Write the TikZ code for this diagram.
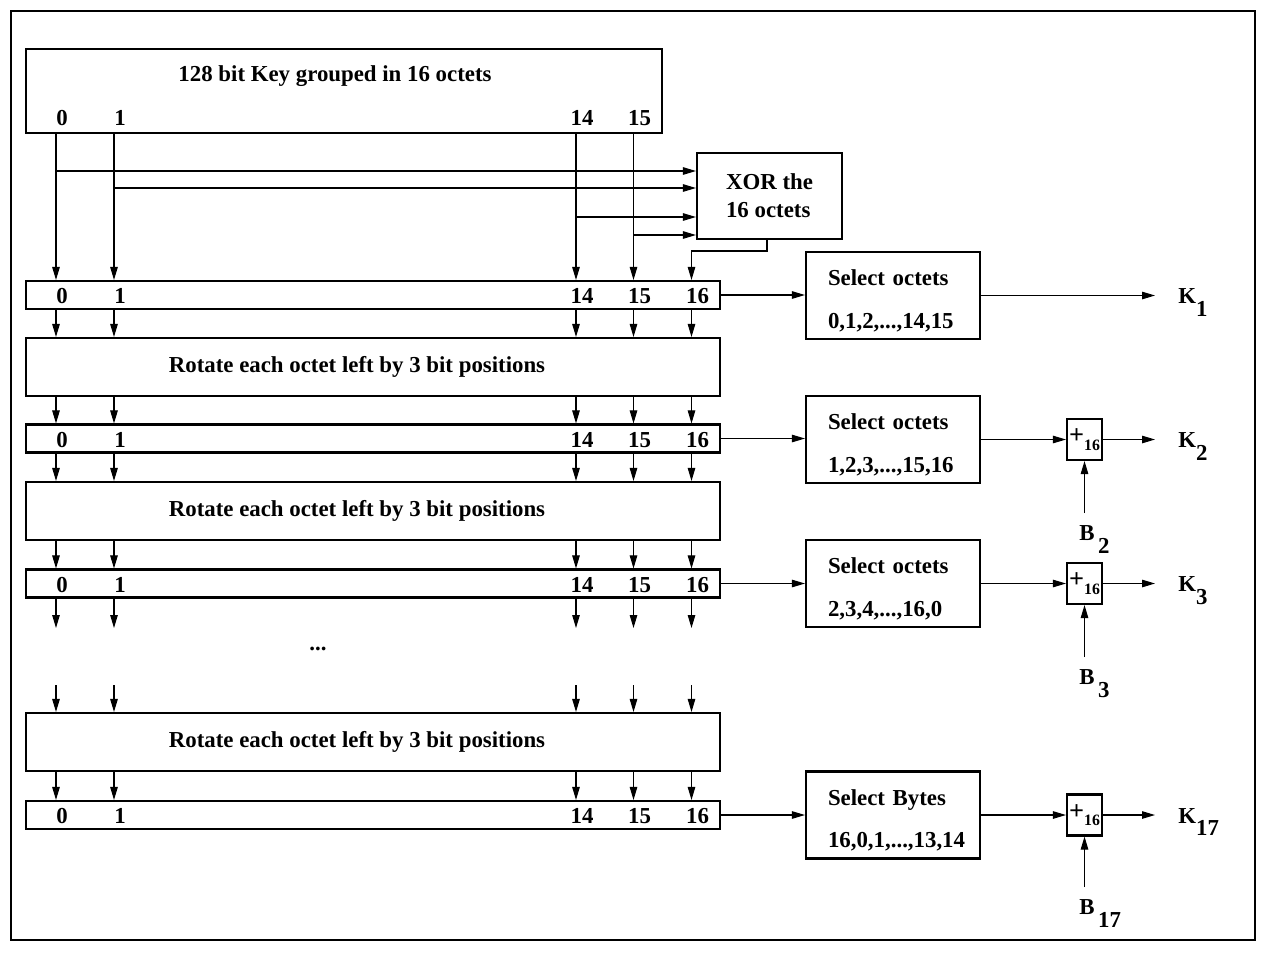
\documentclass[tikz,border=0pt]{standalone}
\usepackage{fontspec}
\setmainfont{Liberation Serif}
\usetikzlibrary{arrows.meta,positioning,calc}
\newcommand\mainsize{\fontsize{13}{16}\selectfont}
\newcommand\lowsub[1]{\raisebox{-1.2ex}{#1}}
\newcommand\plussum{{\fontsize{15}{16}\selectfont+}\raisebox{-.6ex}{\fontsize{9}{10}\selectfont 16}}
\tikzset{
  box/.style={draw,line width=1.2pt,inner sep=0pt,font=\bfseries\mainsize},
  keybox/.style={box,minimum width=127.2mm,minimum height=16.8mm},
  rowbox/.style={box,minimum width=138.8mm,minimum height=5.6mm},
  rotbox/.style={box,minimum width=138.8mm,minimum height=11.6mm,
    execute at begin node={\hspace*{-6.4mm}}},
  xorbox/.style={box,minimum width=29mm,minimum height=17.2mm,align=left},
  selbox/.style={box,minimum width=34.8mm,minimum height=17.4mm,
    text width=26mm,align=left,text height=15pt},
  plusbox/.style={box,minimum width=7mm,minimum height=8.2mm},
  num/.style={font=\bfseries\mainsize,inner sep=0pt},
  digit/.style={num,anchor=base},
  klabel/.style={num,anchor=base west},
  blabel/.style={num,inner ysep=2.5mm,anchor=north west},
  arrow/.style={-{Triangle[length=2.6mm,width=1.5mm]},line width=.6pt}
}

\begin{document}
\begin{tikzpicture}[x=.2mm,y=-.2mm]
\useasboundingbox (0,0) rectangle (1263,952);
\draw[line width=.6pt] (11,11) rectangle (1255,940);

% octet columns
\coordinate (c0) at (56,0);
\coordinate (c1) at (114,0);
\coordinate (c14) at (576,0);
\coordinate (c15) at (633.5,0);
\coordinate (c16) at (691.5,0);

% Key and XOR of the octets
\node[keybox] (key) at (344,91) {};
\node[num] (keytitle) at (335,76) {128 bit Key grouped in 16 octets};
\foreach \c/\t in {c0/0,c1/1,c14/14,c15/15}
  \node[digit] (key\t) at ($(\c |- key)+(6,34.5)$) {\t};

\node[xorbox] (xor) at (769.5,196) {XOR the\\16 octets};

% Octet rows and rotations
\node[rowbox] (row1) at (373,295) {};
\node[rotbox] (rot1) at (373,367) {Rotate each octet left by 3 bit positions};
\node[rowbox] (row2) at (373,438.5) {};
\node[rotbox] (rot2) at (373,511) {Rotate each octet left by 3 bit positions};
\node[rowbox] (row3) at (373,583.5) {};
\node[digit] (dots) at (318,650) {...};
\node[rotbox] (rot3) at (373,742) {Rotate each octet left by 3 bit positions};
\node[rowbox] (row4) at (373,815) {};

\foreach \r in {row1,row2,row3,row4}
  \foreach \c/\t in {c0/0,c1/1,c14/14,c15/15,c16/16}
    \node[digit] (\r-\t) at ($(\c |- \r)+(6,8.5)$) {\t};

% XOR inputs and output
\coordinate (in0) at (56,171);
\coordinate (in1) at (114,188);
\coordinate (in14) at (576,217);
\coordinate (in15) at (633.5,235);
\foreach \t in {0,1,14,15}
  \draw[arrow] (in\t) -- (in\t -| xor.west);
\coordinate (xorbend) at (767,251);
\draw[arrow] (xor.south -| xorbend) -- (xorbend) -| (row1.north -| c16);

% column arrows
\coordinate (gaptop) at (0,628);
\coordinate (gapbot) at (0,685);
\foreach \c in {c0,c1,c14,c15}
  \draw[arrow] (key.south -| \c) -- (row1.north -| \c);
\foreach \c in {c0,c1,c14,c15,c16} {
  \draw[arrow] (row1.south -| \c) -- (rot1.north -| \c);
  \draw[arrow] (rot1.south -| \c) -- (row2.north -| \c);
  \draw[arrow] (row2.south -| \c) -- (rot2.north -| \c);
  \draw[arrow] (rot2.south -| \c) -- (row3.north -| \c);
  \draw[arrow] (row3.south -| \c) -- (\c |- gaptop);
  \draw[arrow] (\c |- gapbot) -- (rot3.north -| \c);
  \draw[arrow] (rot3.south -| \c) -- (row4.north -| \c);
}

% Selection of the subkeys
\node[selbox] (sel1) at (893,295.5) {Select octets\\[8pt]0,1,2,...,14,15};
\node[selbox] (sel2) at (893,439.5) {Select octets\\[8pt]1,2,3,...,15,16};
\node[selbox] (sel3) at (893,583.5) {Select octets\\[8pt]2,3,4,...,16,0};
\node[selbox] (sel4) at (893,815) {Select Bytes\\[8pt]16,0,1,...,13,14};

\node[plusbox] (plus2) at (1084.5,439.5) {\plussum};
\node[plusbox] (plus3) at (1084.5,583.5) {\plussum};
\node[plusbox] (plus17) at (1084.5,815) {\plussum};

\node[klabel] (k1) at (1178,303.5) {K\lowsub{1}};
\node[klabel] (k2) at (1178,447.5) {K\lowsub{2}};
\node[klabel] (k3) at (1178,591.5) {K\lowsub{3}};
\node[klabel] (k17) at (1178,823) {K\lowsub{17}};

\node[blabel] (b2) at (1079,513) {B\kern2pt\lowsub{2}};
\node[blabel] (b3) at (1079,657) {B\kern2pt\lowsub{3}};
\node[blabel] (b17) at (1079,887) {B\kern2pt\lowsub{17}};

\draw[arrow] (row1.east) -- (row1.east -| sel1.west);
\draw[arrow] (row2.east) -- (row2.east -| sel2.west);
\draw[arrow] (row3.east) -- (row3.east -| sel3.west);
\draw[arrow] (row4.east) -- (row4.east -| sel4.west);

\draw[arrow,shorten >=4.6mm] (sel1.east) -- (sel1.east -| k1.west);
\draw[arrow] (sel2.east) -- (plus2.west);
\draw[arrow] (sel3.east) -- (plus3.west);
\draw[arrow] (sel4.east) -- (plus17.west);
\draw[arrow,shorten >=4.6mm] (plus2.east) -- (plus2.east -| k2.west);
\draw[arrow,shorten >=4.6mm] (plus3.east) -- (plus3.east -| k3.west);
\draw[arrow,shorten >=4.6mm] (plus17.east) -- (plus17.east -| k17.west);

\draw[arrow] (b2.north -| plus2) -- (plus2.south);
\draw[arrow] (b3.north -| plus3) -- (plus3.south);
\draw[arrow] (b17.north -| plus17) -- (plus17.south);

\end{tikzpicture}
\end{document}
